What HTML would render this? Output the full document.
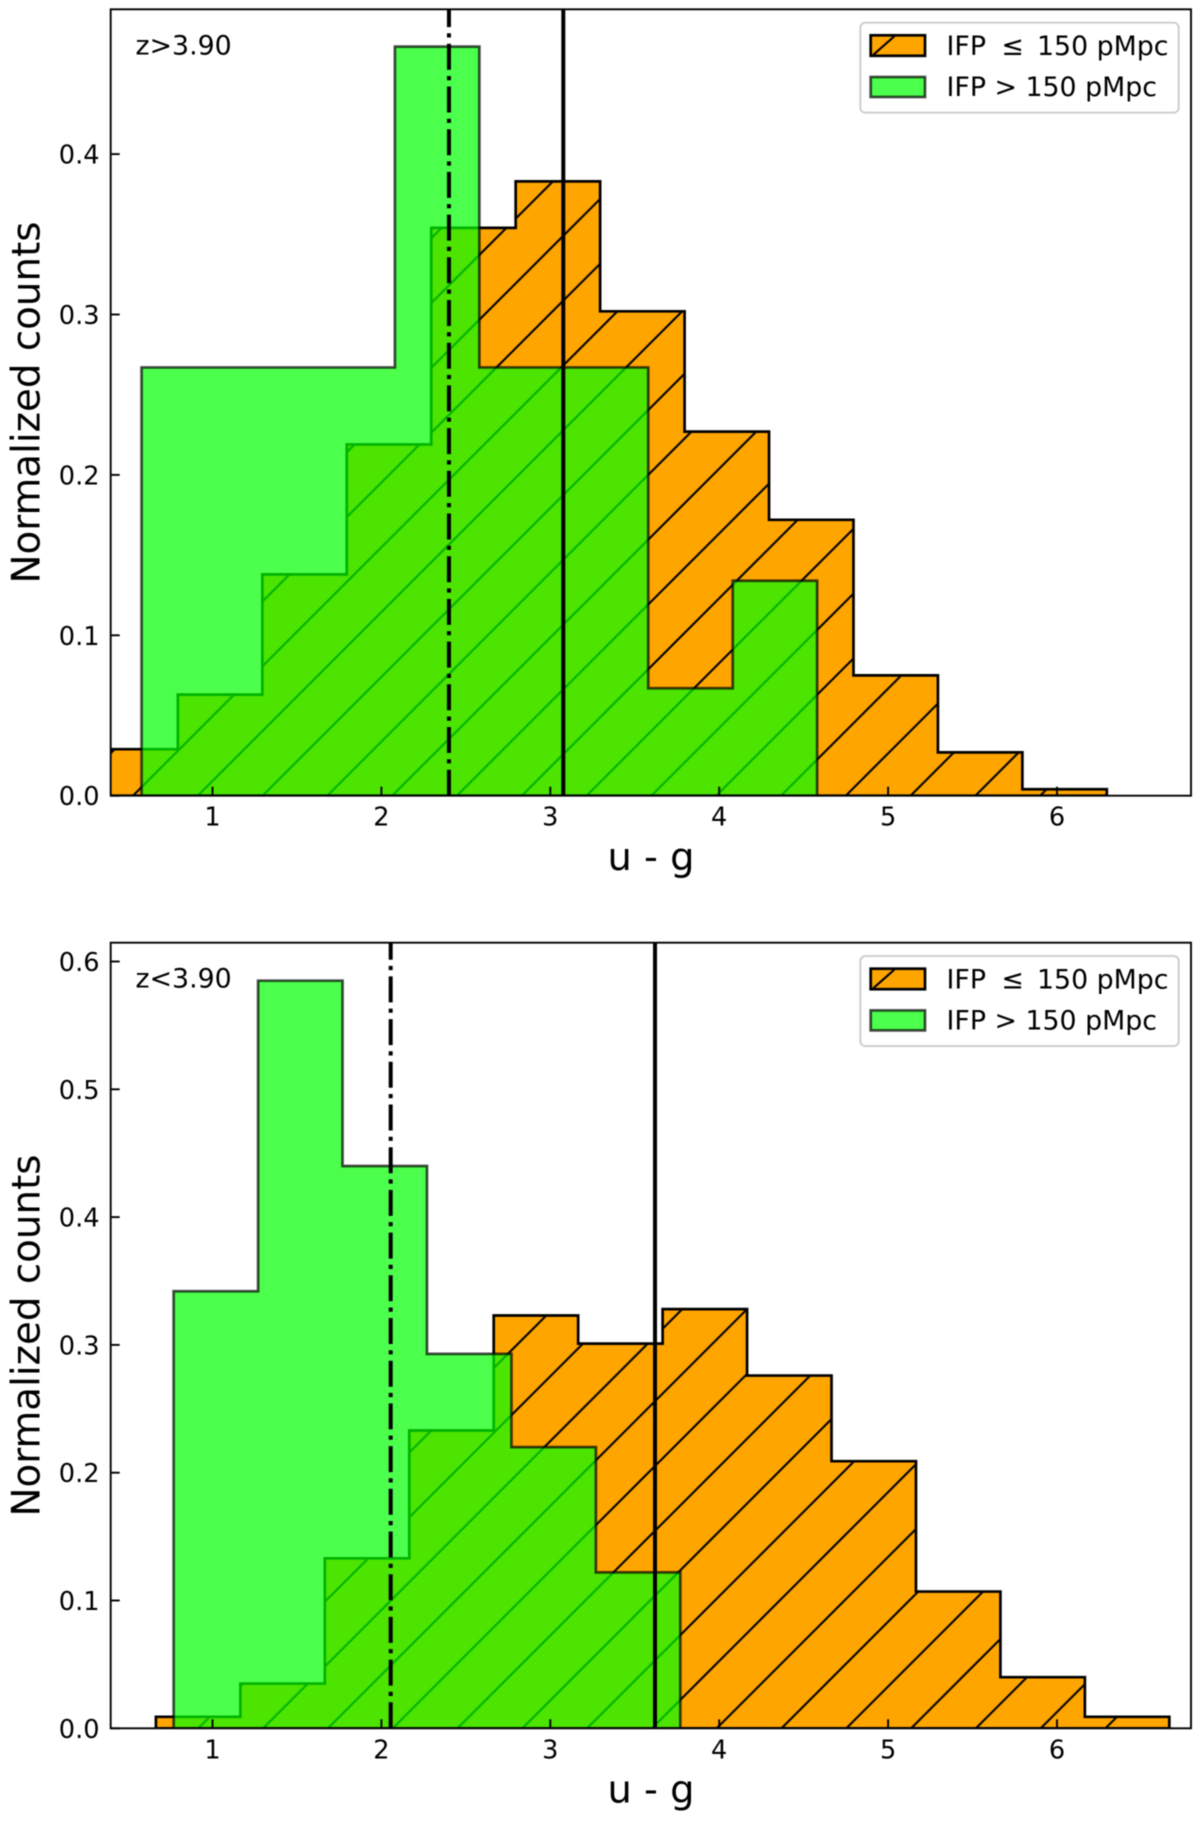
<!DOCTYPE html>
<html lang="en">
<head>
<meta charset="utf-8">
<title>u - g colour histograms</title>
<style>
html,body{margin:0;padding:0;background:#fff;}
svg{display:block;filter:blur(0.45px);}
text{font-family:"DejaVu Sans","Liberation Sans",sans-serif;fill:#000;}
</style>
</head>
<body>
<svg id="chart" xmlns="http://www.w3.org/2000/svg" width="1200" height="1824" viewBox="0 0 1200 1824">
<defs>
<pattern id="hatch-top" patternUnits="userSpaceOnUse" width="64.8" height="64.8" patternTransform="translate(21.5,0)">
<path d="M-5,5L5,-5M-5,69.8L69.8,-5M59.8,69.8L69.8,59.8" stroke="#000" stroke-width="2.1" fill="none"/>
</pattern>
<pattern id="hatch-bottom" patternUnits="userSpaceOnUse" width="64.8" height="64.8" patternTransform="translate(47.4,0)">
<path d="M-5,5L5,-5M-5,69.8L69.8,-5M59.8,69.8L69.8,59.8" stroke="#000" stroke-width="2.1" fill="none"/>
</pattern>
<clipPath id="clip-top"><rect x="110.7" y="9.3" width="1080.3" height="786.4"/></clipPath>
<clipPath id="clip-bottom"><rect x="110.7" y="942.7" width="1080.3" height="785.6"/></clipPath>
</defs>
<g id="panel-top"></g>
<g id="panel-bottom"></g>
</svg>
<script>
// Shared x-axis tick values
const xTicks = [1, 2, 3, 4, 5, 6];

// Top panel (z>3.90) data
const topYTicks = [0, 0.1, 0.2, 0.3, 0.4];
const topOrangeEdges = [0.295, 0.795, 1.295, 1.795, 2.295, 2.795, 3.295, 3.795, 4.295, 4.795, 5.295, 5.795, 6.295];
const topOrangeValues = [0.029, 0.063, 0.138, 0.219, 0.354, 0.383, 0.302, 0.227, 0.172, 0.075, 0.027, 0.004];
const topGreenEdges = [0.58, 1.08, 1.58, 2.08, 2.58, 3.08, 3.58, 4.08, 4.58];
const topGreenValues = [0.267, 0.267, 0.267, 0.467, 0.267, 0.267, 0.067, 0.134];
const topMedianSolid = 3.077;
const topMedianDashDot = 2.40;

// Bottom panel (z<3.90) data
const bottomYTicks = [0, 0.1, 0.2, 0.3, 0.4, 0.5, 0.6];
const bottomOrangeEdges = [0.665, 1.165, 1.665, 2.165, 2.665, 3.165, 3.665, 4.165, 4.665, 5.165, 5.665, 6.165, 6.665];
const bottomOrangeValues = [0.009, 0.035, 0.133, 0.233, 0.323, 0.301, 0.328, 0.276, 0.209, 0.107, 0.040, 0.009];
const bottomGreenEdges = [0.77, 1.27, 1.77, 2.27, 2.77, 3.27, 3.77];
const bottomGreenValues = [0.342, 0.585, 0.440, 0.293, 0.220, 0.122];
const bottomMedianSolid = 3.62;
const bottomMedianDashDot = 2.055;

const NS = 'http://www.w3.org/2000/svg';
const AX_LEFT = 110.7, AX_RIGHT = 1191;

function xScale(v) { return 212.5 + (v - 1) * 168.9; }

function make(tag, parent, attrs, txt) {
  const el = document.createElementNS(NS, tag);
  for (const k in attrs) el.setAttribute(k, attrs[k]);
  if (txt !== undefined) el.textContent = txt;
  parent.appendChild(el);
  return el;
}

function stepPath(edges, values, yScale) {
  let d = 'M' + xScale(edges[0]).toFixed(2) + ',' + yScale(0).toFixed(2);
  values.forEach(function (v, i) {
    const y = yScale(v).toFixed(2);
    d += 'L' + xScale(edges[i]).toFixed(2) + ',' + y;
    d += 'L' + xScale(edges[i + 1]).toFixed(2) + ',' + y;
  });
  d += 'L' + xScale(edges[edges.length - 1]).toFixed(2) + ',' + yScale(0).toFixed(2) + 'Z';
  return d;
}

function drawPanel(cfg) {
  const g = cfg.group;
  const yScale = function (v) { return cfg.bottom - v * cfg.yUnit; };
  const clip = make('g', g, { 'clip-path': 'url(#' + cfg.clip + ')' });
  
  

  const dOrange = stepPath(cfg.orangeEdges, cfg.orangeValues, yScale);
  const orangeFill = make('path', clip, { d: dOrange, fill: '#ffa500' });
  
  
  const orangeHatch = make('path', clip, { d: dOrange, fill: 'url(#' + cfg.hatch + ')' });
  
  
  const orangeEdge = make('path', clip, { d: dOrange, fill: 'none', stroke: '#000', 'stroke-width': 2.7, 'stroke-linejoin': 'miter' });
  
  

  const dGreen = stepPath(cfg.greenEdges, cfg.greenValues, yScale);
  const green = make('path', clip, { d: dGreen, fill: '#00ff00', 'fill-opacity': 0.7, stroke: '#000', 'stroke-opacity': 0.7, 'stroke-width': 2.7 });
  
  

  const solid = make('line', clip, { x1: xScale(cfg.solid), x2: xScale(cfg.solid), y1: cfg.bottom, y2: cfg.top, stroke: '#000', 'stroke-width': 4 });
  
  
  const dash = make('line', clip, { x1: xScale(cfg.dashdot), x2: xScale(cfg.dashdot), y1: cfg.bottom, y2: cfg.top, stroke: '#000', 'stroke-width': 4, 'stroke-dasharray': '26 6.3 4.2 6.2' });
  
  

  xTicks.forEach(function (t) {
    const x = xScale(t);
    const tick = make('line', g, { x1: x, x2: x, y1: cfg.bottom, y2: cfg.bottom - 9, stroke: '#000', 'stroke-width': 1.9 });
    
    
    const label = make('text', g, { x: x, y: cfg.bottom + 30, 'font-size': 25.6, 'text-anchor': 'middle' }, String(t));
    
    
  });
  cfg.yTicks.forEach(function (t) {
    const y = yScale(t);
    const tick = make('line', g, { x1: AX_LEFT, x2: AX_LEFT + 9, y1: y, y2: y, stroke: '#000', 'stroke-width': 1.9 });
    
    
    const label = make('text', g, { x: 99.5, y: y + 9.5, 'font-size': 25.6, 'text-anchor': 'end' }, t.toFixed(1));
    
    
  });

  const frame = make('rect', g, { x: AX_LEFT, y: cfg.top, width: AX_RIGHT - AX_LEFT, height: cfg.bottom - cfg.top, fill: 'none', stroke: '#000', 'stroke-width': 1.9 });
  
  

  const note = make('text', g, { x: 135.5, y: cfg.top + 45, 'font-size': 26.8 }, cfg.note);
  
  

  const xTitle = make('text', g, { x: 651, y: cfg.bottom + 74.4, 'font-size': 38.4, 'text-anchor': 'middle' }, 'u - g');
  
  

  const cy = (cfg.top + cfg.bottom) / 2;
  const yTitle = make('text', g, { x: 0, y: 0, 'font-size': 38.8, 'text-anchor': 'middle', transform: 'translate(39.5,' + cy + ') rotate(-90)' }, 'Normalized counts');
  
  

  // Legend
  const lt = cfg.top;
  const legend = make('g', g, {});
  
  
  make('rect', legend, { x: 860.3, y: lt + 13.4, width: 318.4, height: 90, rx: 5, ry: 5, fill: '#fff', 'fill-opacity': 0.8, stroke: '#ccc', 'stroke-width': 1.9 });

  const entryLow = make('g', legend, {});
  
  
  make('rect', entryLow, { x: 870.7, y: lt + 26, width: 54.3, height: 20.5, fill: '#ffa500' });
  make('line', entryLow, { x1: 873.3, y1: lt + 45.5, x2: 894.3, y2: lt + 27, stroke: '#000', 'stroke-width': 2.1 });
  make('rect', entryLow, { x: 870.7, y: lt + 26, width: 54.3, height: 20.5, fill: 'none', stroke: '#000', 'stroke-width': 2.7 });
  make('text', entryLow, { x: 946.5, y: lt + 45.7, 'font-size': 26.8 }, 'IFP');
  make('text', entryLow, { x: 1001.5, y: lt + 45.7, 'font-size': 26.8 }, '≤');
  make('text', entryLow, { x: 1037, y: lt + 45.7, 'font-size': 26.8 }, '150 pMpc');

  const entryHigh = make('g', legend, {});
  
  
  make('rect', entryHigh, { x: 870.7, y: lt + 67.7, width: 54.3, height: 20, fill: '#00ff00', 'fill-opacity': 0.7, stroke: '#000', 'stroke-opacity': 0.7, 'stroke-width': 2.7 });
  make('text', entryHigh, { x: 946.5, y: lt + 86.7, 'font-size': 26.8 }, 'IFP > 150 pMpc');
}

drawPanel({
  group: document.getElementById('panel-top'),
  clip: 'clip-top', hatch: 'hatch-top', top: 9.3, bottom: 795.7, yUnit: 1604,
  yTicks: topYTicks, orangeEdges: topOrangeEdges, orangeValues: topOrangeValues,
  greenEdges: topGreenEdges, greenValues: topGreenValues,
  solid: topMedianSolid, dashdot: topMedianDashDot, note: 'z>3.90'
});
drawPanel({
  group: document.getElementById('panel-bottom'),
  clip: 'clip-bottom', hatch: 'hatch-bottom', top: 942.7, bottom: 1728.3, yUnit: 1278,
  yTicks: bottomYTicks, orangeEdges: bottomOrangeEdges, orangeValues: bottomOrangeValues,
  greenEdges: bottomGreenEdges, greenValues: bottomGreenValues,
  solid: bottomMedianSolid, dashdot: bottomMedianDashDot, note: 'z<3.90'
});
</script>
</body>
</html>
